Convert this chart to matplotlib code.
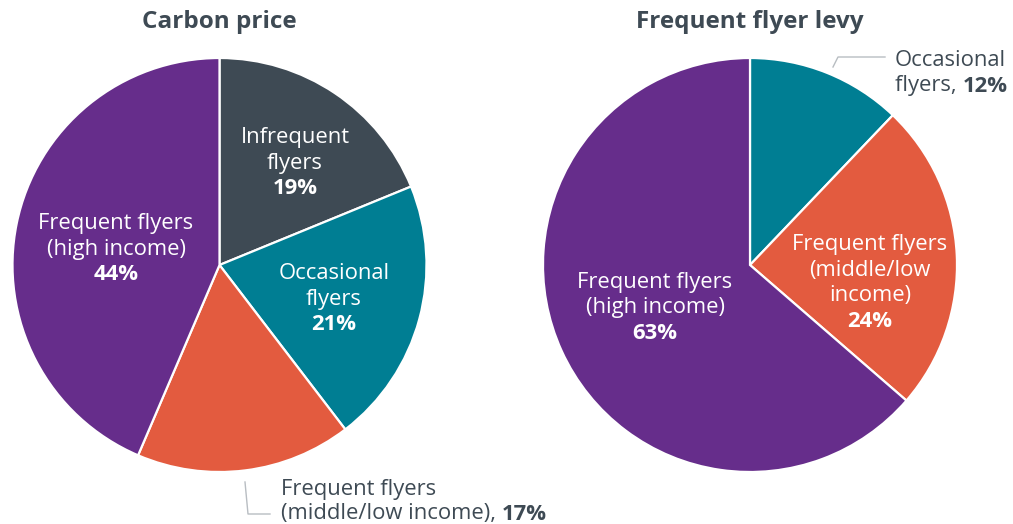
import matplotlib
matplotlib.use("Agg")
import matplotlib.pyplot as plt

plt.rcParams['font.family'] = ['Open Sans', 'DejaVu Sans']

# Data
left_title = "Carbon price"
left_labels = ["Infrequent flyers", "Occasional flyers", "Frequent flyers (middle/low income)", "Frequent flyers (high income)"]
left_values = [19, 21, 17, 44]
left_colors = ["#3e4a54", "#007e93", "#e35b3f", "#662d8b"]

right_title = "Frequent flyer levy"
right_labels = ["Occasional flyers", "Frequent flyers (middle/low income)", "Frequent flyers (high income)"]
right_values = [12, 24, 63]
right_colors = ["#007e93", "#e35b3f", "#662d8b"]

W, H = 1013, 524
fig = plt.figure(figsize=(W / 100, H / 100), dpi=100)
ax = fig.add_axes([0, 0, 1, 1])

def Y(y):
    return H - y

R = 207
lc = (219.5, Y(265))
rc = (750, Y(265))
wp = dict(edgecolor='white', linewidth=1.6)
ax.pie(left_values, colors=left_colors, startangle=90, counterclock=False,
       center=lc, radius=R, wedgeprops=wp, frame=True)
ax.pie(right_values, colors=right_colors, startangle=90, counterclock=False,
       center=rc, radius=R, wedgeprops=wp, frame=True)
ax.set_xlim(0, W)
ax.set_ylim(0, H)
ax.set_aspect('equal')
ax.axis('off')

dark = "#3e4a54"
fs = 15.8
fw = 'medium'
ax.text(219, Y(22), left_title, ha='center', va='center', fontsize=17.5, fontweight='bold', color=dark)
ax.text(750, Y(22), right_title, ha='center', va='center', fontsize=17.5, fontweight='bold', color=dark)

def inner(x, yc, lines, pct):
    n = len(lines) + 1
    step = 25.5
    y0 = yc - step * (n - 1) / 2
    for i, ln in enumerate(lines):
        ax.text(x, Y(y0 + i * step), ln, ha='center', va='center', fontsize=fs, color='white', fontweight=fw)
    ax.text(x, Y(y0 + (n - 1) * step), pct, ha='center', va='center', fontsize=fs, color='white', fontweight='bold')

inner(295, 163, ["Infrequent", "flyers"], f"{left_values[0]}%")
inner(334, 299, ["Occasional", "flyers"], f"{left_values[1]}%")
inner(116, 249, ["Frequent flyers", "(high income)"], f"{left_values[3]}%")
inner(870, 283, ["Frequent flyers", "(middle/low", "income)"], f"{right_values[1]}%")
inner(655, 308, ["Frequent flyers", "(high income)"], f"{right_values[2]}%")

# Outside labels
line_c = "#b8bdc2"
ax.plot([245, 248, 270], [Y(482), Y(514), Y(514)], color=line_c, lw=1)
ax.text(281, Y(489), "Frequent flyers", ha='left', va='center', fontsize=fs, color=dark, fontweight=fw)
t = ax.text(281, Y(514), "(middle/low income), ", ha='left', va='center', fontsize=fs, color=dark, fontweight=fw)
fig.canvas.draw()
bb = t.get_window_extent()
x_end = ax.transData.inverted().transform((bb.x1, bb.y0))[0]
ax.text(x_end, Y(514), f"{left_values[2]}%", ha='left', va='center', fontsize=fs, color=dark, fontweight='bold')

ax.plot([833, 838, 885], [Y(67), Y(57), Y(57)], color=line_c, lw=1)
ax.text(895, Y(60), "Occasional", ha='left', va='center', fontsize=fs, color=dark, fontweight=fw)
t2 = ax.text(895, Y(86), "flyers, ", ha='left', va='center', fontsize=fs, color=dark, fontweight=fw)
fig.canvas.draw()
bb2 = t2.get_window_extent()
x_end2 = ax.transData.inverted().transform((bb2.x1, bb2.y0))[0]
ax.text(x_end2, Y(86), f"{right_values[0]}%", ha='left', va='center', fontsize=fs, color=dark, fontweight='bold')

fig.savefig("out.png", dpi=100)
